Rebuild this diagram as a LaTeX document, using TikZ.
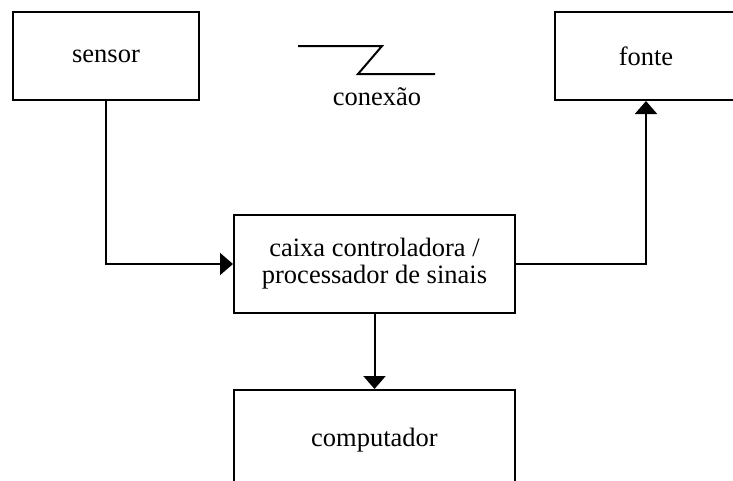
\documentclass[tikz,border=0pt]{standalone}
\usepackage{fontspec}
\setmainfont{Liberation Serif}
\usetikzlibrary{arrows.meta,positioning}
\tikzset{>={Triangle[width=22pt,length=13pt]}}
\tikzset{
    blockbox/.style={draw=black, line width=2pt, rectangle, align=center,
        font=\fontsize{26.5}{27}\selectfont},
    link/.style={->, line width=2pt, draw=black}
}

\begin{document}
\begin{tikzpicture}[x=1pt, y=-1pt]
        \clip (0,0) rectangle (733,480);
        \fill[white] (0,0) rectangle (733,480);

        \node[blockbox, minimum width=186pt, minimum height=88pt] (sensor) at (106,56) {sensor};
        \node[blockbox, minimum width=182pt, minimum height=88pt] (fonte) at (646,56) {fonte};
        \node[blockbox, minimum width=281pt, minimum height=98pt] (caixa) at (374.5,264) {caixa controladora /\\processador de sinais};
        \node[blockbox, minimum width=281pt, minimum height=100pt] (comp) at (374.5,440) {computador};

        % simbolo de conexao
        \coordinate (c1) at (298,46);
        \coordinate (c2) at (382,46);
        \coordinate (c3) at (358,74);
        \coordinate (c4) at (435,74);
        \draw[line width=2pt] (c1) -- (c2) -- (c3) -- (c4);
        \node[font=\fontsize{26.5}{27}\selectfont] (conexao) at (377,97) {conexão};

        \draw[link] (sensor.south) |- (caixa.west);
        \draw[link] (caixa.east) -| (fonte.south);
        \draw[link] (caixa.south) -- (comp.north);
\end{tikzpicture}
\end{document}
